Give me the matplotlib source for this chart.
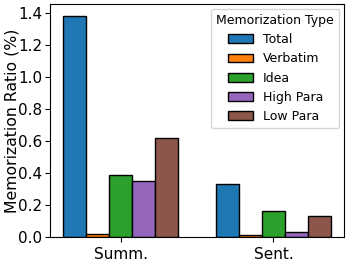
import numpy as np
import matplotlib.pyplot as plt

categories = ['Summ.', 'Sent.']
types = ['Total', 'Verbatim', 'Idea', 'High Para', 'Low Para']
values = {
    'Total': [1.38, 0.33],
    'Verbatim': [0.02, 0.01],
    'Idea': [0.39, 0.16],
    'High Para': [0.35, 0.03],
    'Low Para': [0.62, 0.13],
}
yticks = [0.0, 0.2, 0.4, 0.6, 0.8, 1.0, 1.2, 1.4]
colors = ['#1f77b4', '#ff7f0e', '#2ca02c', '#9467bd', '#8c564b']

fig, ax = plt.subplots(figsize=(3.49, 2.61), dpi=100)
x = np.arange(len(categories))
w = 0.15
for i, t in enumerate(types):
    ax.bar(x + (i - 2) * w, values[t], w, color=colors[i], edgecolor='black',
           linewidth=1, label=t)

ax.set_xticks(x)
ax.set_xticklabels(categories, fontsize=11)
ax.set_yticks(yticks)
ax.tick_params(axis='y', labelsize=11, pad=2)
ax.set_ylabel('Memorization Ratio (%)', fontsize=11.3)
ax.yaxis.set_label_coords(-0.105, 0.5)
ax.set_ylim(0, 1.456)
ax.legend(title='Memorization Type', fontsize=9, title_fontsize=9,
          borderaxespad=0.4)

plt.subplots_adjust(left=0.143, right=0.986, top=0.985, bottom=0.092)
plt.savefig('out.png')
